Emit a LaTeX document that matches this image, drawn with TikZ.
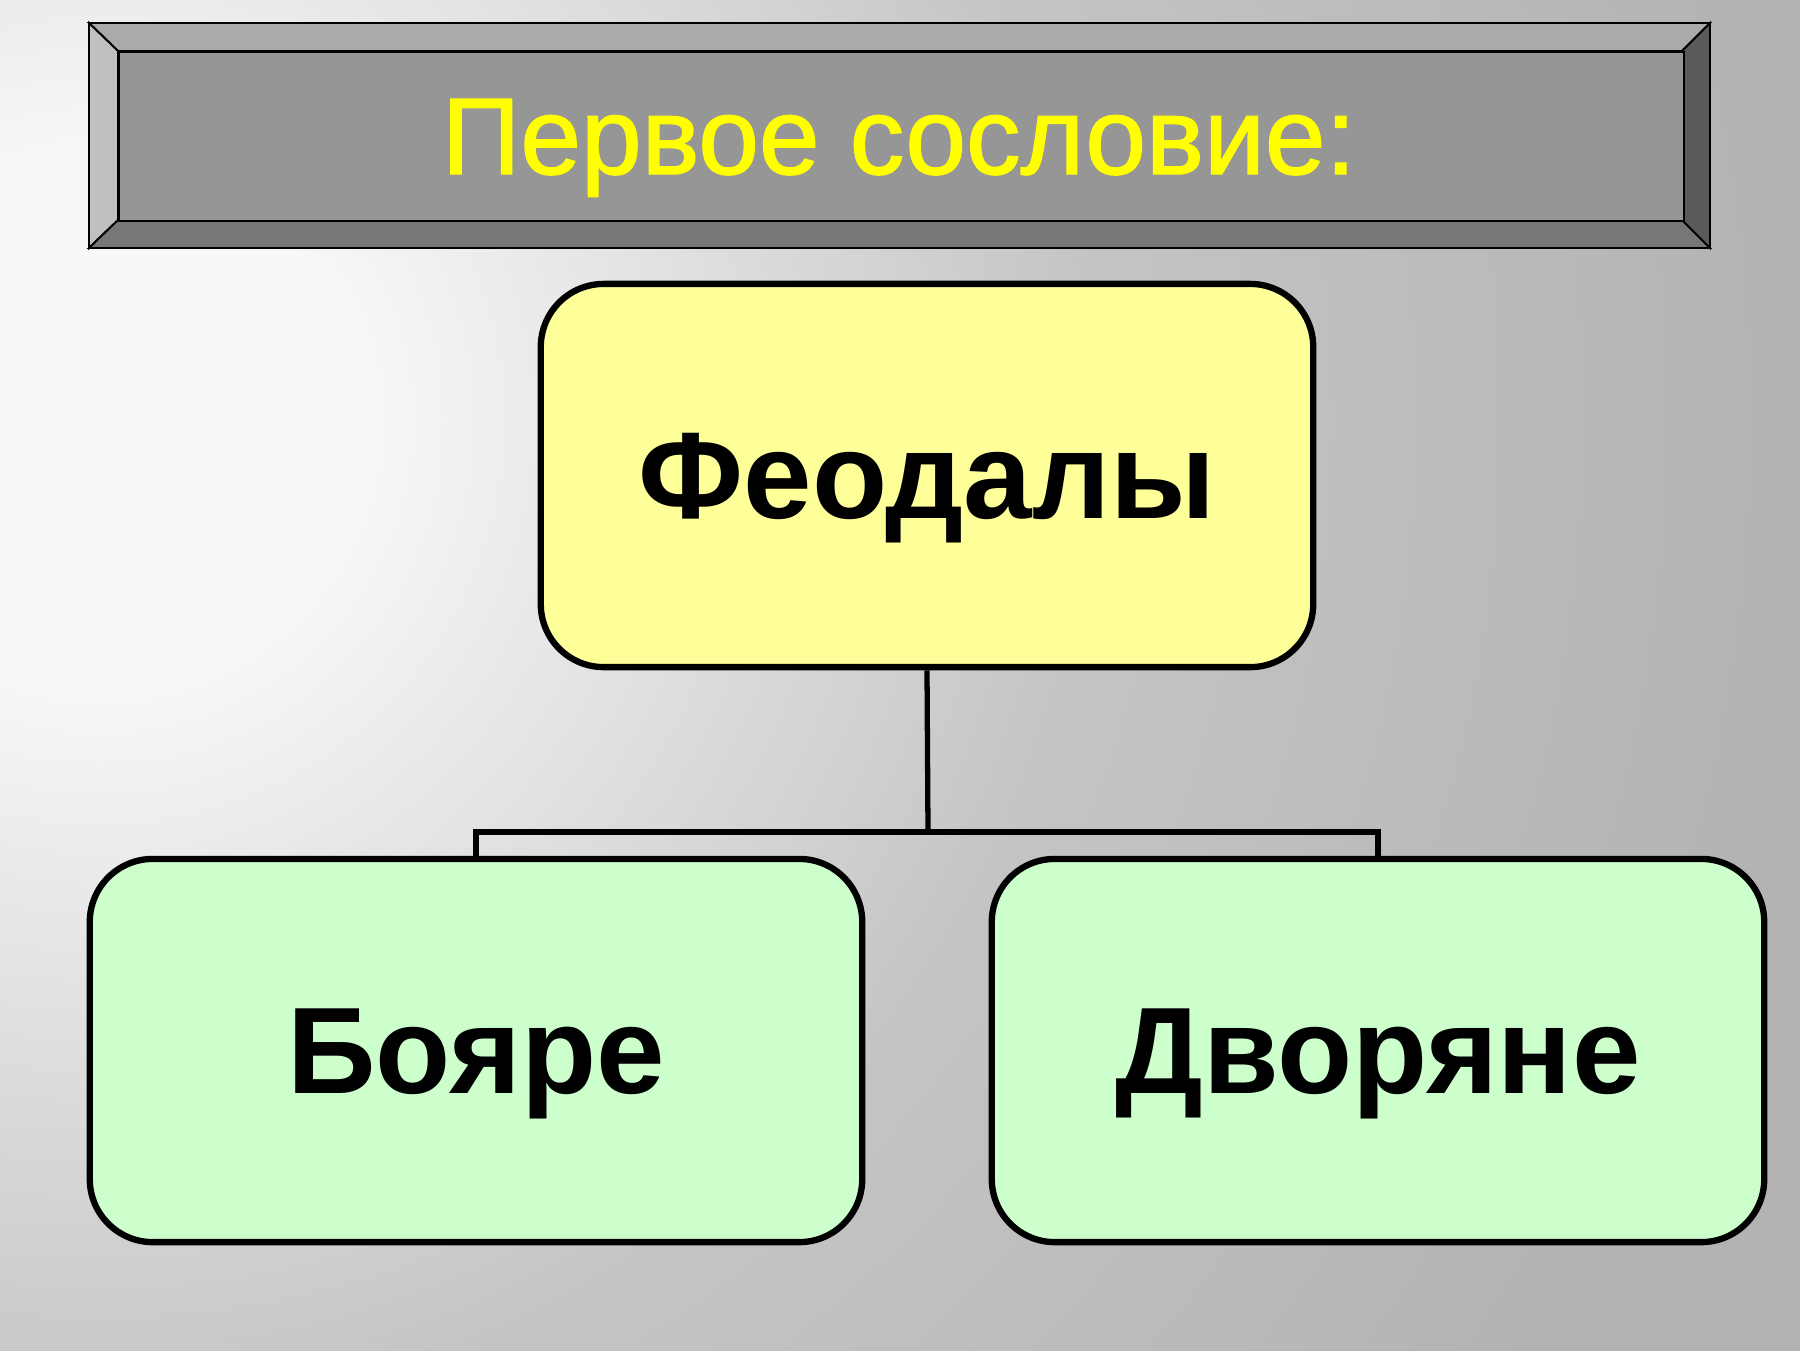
\documentclass[tikz,border=0pt]{standalone}
\usepackage{fontspec}
\setmainfont{Liberation Sans}
\newfontfamily\titlefont{Liberation Sans}[BoldFont={Liberation Sans}, BoldFeatures={FakeBold=1.3}]
\definecolor{bgGray}{HTML}{B3B3B3}
\definecolor{bgMid}{HTML}{C4C4C4}
\definecolor{bgLight}{HTML}{F8F8F8}
\definecolor{bevTop}{HTML}{AAAAAA}
\definecolor{bevLeft}{HTML}{C0C0C0}
\definecolor{bevIn}{HTML}{969696}
\definecolor{bevBot}{HTML}{777777}
\definecolor{bevRight}{HTML}{5A5A5A}
\definecolor{feodFill}{HTML}{FFFF99}
\definecolor{subFill}{HTML}{CCFFCC}
\definecolor{titleYellow}{HTML}{FFFF00}
\pgfdeclareradialshading{bgshade}{\pgfpoint{0bp}{0bp}}{color(0bp)=(bgLight); color(71bp)=(bgLight); color(285bp)=(bgMid); color(484bp)=(bgGray); color(600bp)=(bgGray)}
\tikzset{
  bevline/.style={draw=black, line width=0.55pt, line join=miter},
  boxnode/.style={draw=black, line width=1.8pt, rounded corners=0.63cm,
    minimum width=7.72cm, minimum height=3.83cm, inner sep=0pt,
    font=\fontsize{35}{40}\selectfont\bfseries, text height=0.86cm, text depth=0pt},
  connector/.style={draw=black, line width=1.5pt},
}
\begin{document}
\begin{tikzpicture}[x=0.01cm, y=-0.01cm]
  \useasboundingbox (0,0) rectangle (1800,1350);
  % background
  \fill[bgGray] (0,0) rectangle (1800,1350);
  \begin{scope}
    \clip (0,0) rectangle (1800,1350);
    \node[inner sep=0pt, outer sep=0pt] (bg) at (100,420) {\pgfuseshading{bgshade}};
  \end{scope}
  % bevelled title panel
  \fill[bevTop, bevline] (89,23) -- (1710,23) -- (1682,51) -- (118,51) -- cycle;
  \fill[bevLeft, bevline] (89,23) -- (118,51) -- (118,220) -- (89,248) -- cycle;
  \fill[bevBot, bevline] (89,248) -- (118,220) -- (1682,220) -- (1710,248) -- cycle;
  \fill[bevRight, bevline] (1710,23) -- (1710,248) -- (1682,220) -- (1682,51) -- cycle;
  \node[fill=bevIn, bevline, minimum width=15.64cm, minimum height=1.69cm, inner sep=0pt,
        anchor=north west] (panel) at (118,51) {};
  \node[text=titleYellow, font=\fontsize{31}{36}\selectfont\titlefont\bfseries, text height=0.74cm, text depth=0pt, inner sep=0pt]
     (title) at (899,137) {Первое сословие:};
  % boxes
  \node[boxnode, fill=feodFill] (feod) at (927,475.5) {Феодалы};
  \node[boxnode, fill=subFill] (boy) at (476,1050.5) {Бояре};
  \node[boxnode, fill=subFill] (dvor) at (1378,1050.5) {Дворяне};
  % connectors
  \coordinate (mid) at (928,832);
  \draw[connector] (feod.south) -- (mid);
  \draw[connector] (boy.north) |- (mid) -| (dvor.north);
\end{tikzpicture}
\end{document}
